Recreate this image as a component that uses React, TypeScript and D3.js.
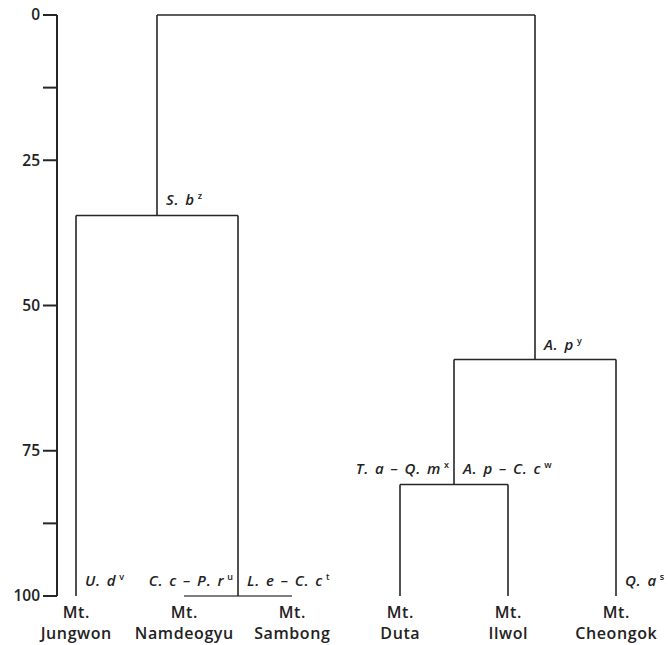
import React from "react";
import * as d3 from "d3";

// ---- data ----
const leafNames: string[] = ["Jungwon", "Namdeogyu", "Sambong", "Duta", "Ilwol", "Cheongok"];
const leafPrefix = "Mt.";

// merges: [child A, child B, height (dissimilarity, 0 = top, 100 = bottom)]
type Merge = { id: string; a: string; b: string; h: number };
const merges: Merge[] = [
  { id: "NS", a: "Namdeogyu", b: "Sambong", h: 100 },
  { id: "DI", a: "Duta", b: "Ilwol", h: 80.8 },
  { id: "JNS", a: "Jungwon", b: "NS", h: 34.5 },
  { id: "DIC", a: "DI", b: "Cheongok", h: 59.3 },
  { id: "root", a: "JNS", b: "DIC", h: 0 },
];
const leafHeight = 100;

const yTicks: number[] = [0, 25, 50, 75, 100];
const yMinorTicks: number[] = [12.5, 87.5];

// annotations: node, side (left/right of node vertical), taxa, superscript
type Ann = { node: string; side: "L" | "R"; parts: string[]; sup: string };
const annotations: Ann[] = [
  { node: "JNS", side: "R", parts: ["S. b"], sup: "z" },
  { node: "DIC", side: "R", parts: ["A. p"], sup: "y" },
  { node: "DI", side: "L", parts: ["T. a", "Q. m"], sup: "x" },
  { node: "DI", side: "R", parts: ["A. p", "C. c"], sup: "w" },
  { node: "Jungwon", side: "R", parts: ["U. d"], sup: "v" },
  { node: "NS", side: "L", parts: ["C. c", "P. r"], sup: "u" },
  { node: "NS", side: "R", parts: ["L. e", "C. c"], sup: "t" },
  { node: "Cheongok", side: "R", parts: ["Q. a"], sup: "s" },
];

const W = 669;
const H = 645;
const FONT = "'Open Sans', 'Noto Sans', sans-serif";
const STROKE = "#262626";

export default function App() {
  const y = d3.scaleLinear().domain([0, 100]).range([15, 596]);
  const x = d3.scalePoint<string>().domain(leafNames).range([76, 616]);

  const pos: Record<string, { x: number; y: number }> = {};
  leafNames.forEach((n) => (pos[n] = { x: x(n)!, y: y(leafHeight) }));
  const links: { x1: number; y1: number; x2: number; y2: number; light?: boolean }[] = [];
  merges.forEach((m) => {
    const A = pos[m.a];
    const B = pos[m.b];
    const ny = y(m.h);
    pos[m.id] = { x: (A.x + B.x) / 2, y: ny };
    links.push({ x1: A.x, y1: ny, x2: B.x, y2: ny, light: m.h === 100 });
    if (A.y !== ny) links.push({ x1: A.x, y1: A.y, x2: A.x, y2: ny });
    if (B.y !== ny) links.push({ x1: B.x, y1: B.y, x2: B.x, y2: ny });
  });
  const axisX = 57;

  return (
    <svg width={W} height={H} style={{ position: "absolute", left: 0, top: 0 }} fontFamily={FONT}>
      {/* axis */}
      <line x1={axisX} x2={axisX} y1={y(0)} y2={y(100)} stroke={STROKE} strokeWidth={2} />
      {yTicks.map((t) => (
        <g key={t}>
          <line x1={axisX - 14} x2={axisX} y1={y(t)} y2={y(t)} stroke={STROKE} strokeWidth={2} />
          <text x={axisX - 17} y={y(t)} dy="0.35em" textAnchor="end" fontSize={15.5} fontWeight={600} fill="#222">
            {t}
          </text>
        </g>
      ))}
      {yMinorTicks.map((t) => (
        <line key={t} x1={axisX - 14} x2={axisX} y1={y(t)} y2={y(t)} stroke={STROKE} strokeWidth={2} />
      ))}

      {/* dendrogram */}
      {links.map((l, i) => (
        <line
          key={i}
          x1={l.x1}
          x2={l.x2}
          y1={l.y1}
          y2={l.y2}
          stroke={l.light ? "#555" : STROKE}
          strokeWidth={1.6}
        />
      ))}

      {/* leaf labels */}
      {leafNames.map((n) => (
        <text key={n} textAnchor="middle" fontSize={16} fontWeight={600} fill="#222" letterSpacing={0.6}>
          <tspan x={x(n)! + 0.3} y={618}>
            {leafPrefix}
          </tspan>
          <tspan x={x(n)! + 0.3} y={639}>
            {n}
          </tspan>
        </text>
      ))}

      {/* annotations */}
      {annotations.map((a, i) => {
        const p = pos[a.node];
        const isR = a.side === "R";
        const tx = isR ? p.x + 9 : p.x - 5;
        return (
          <text
            key={i}
            x={tx}
            y={p.y - 10}
            textAnchor={isR ? "start" : "end"}
            fontSize={15}
            fontWeight={600}
            fontStyle="italic"
            fill="#222"
            letterSpacing={0.7}
            wordSpacing={1.5}
          >
            {a.parts.join(" – ")}
            <tspan fontSize={9} dy={-6} dx={3} fontStyle="normal" letterSpacing={0}>
              {a.sup}
            </tspan>
          </text>
        );
      })}
    </svg>
  );
}
